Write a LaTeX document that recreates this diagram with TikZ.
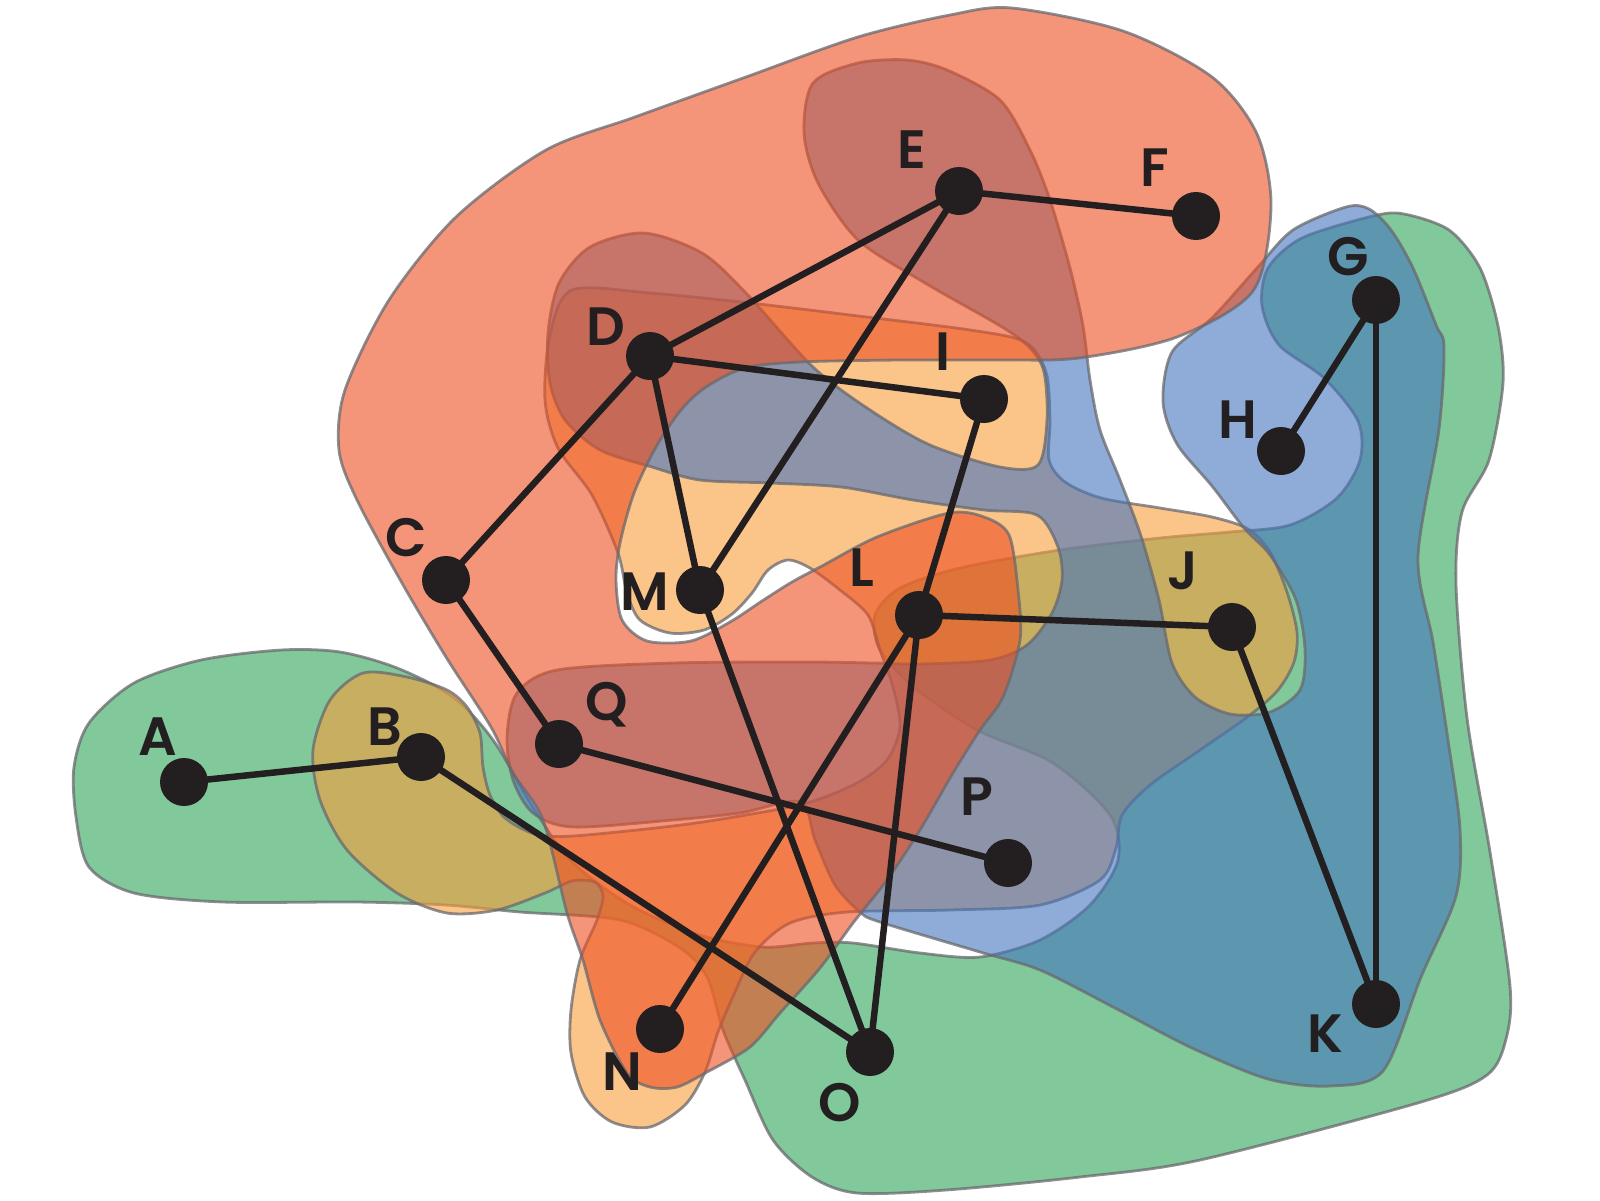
\documentclass[tikz,border=0pt]{standalone}
\usepackage{fontspec}
\setmainfont{Poppins}
\IfFontExistsTF{Poppins SemiBold}
  {\newfontfamily\lblfont{Poppins SemiBold}\newcommand\lblweight{}}
  {\IfFontExistsTF{Poppins Medium}
     {\newfontfamily\lblfont{Poppins Medium}\newcommand\lblweight{}}
     {\newfontfamily\lblfont{Poppins}\newcommand\lblweight{\bfseries}}}
\definecolor{cgreen}{RGB}{45,165,88}
\definecolor{corange}{RGB}{248,158,58}
\definecolor{cblue}{RGB}{68,117,190}
\definecolor{csalmon}{RGB}{237,78,33}
\definecolor{edgecol}{RGB}{35,31,32}
\definecolor{outl}{RGB}{105,105,110}
\tikzset{
  blob/.style={draw=outl, draw opacity=0.75, line width=2.8pt, fill opacity=0.6},
  dot/.style={circle, fill=edgecol, minimum size=48pt, inner sep=0pt},
  lbl/.style={text=edgecol, inner sep=0pt, text depth=0pt, font=\lblfont\fontsize{54}{60}\selectfont\lblweight},
  link/.style={draw=edgecol, line width=6.5pt}
}
\begin{document}
\begin{tikzpicture}[x=1pt,y=-1pt]
\useasboundingbox (0,0) rectangle (1600,1200);
% green
\draw[blob, fill=cgreen] plot[smooth cycle, tension=0.5] coordinates {
(281,650) (340,652) (397,668) (453,697) (493,740) (533,807) (570,860) (630,905) (700,935) (763,947) (813,943) (853,943) (920,953) (980,957) (1040,940) (1090,905) (1118,860) (1110,815) (1053,763) (977,730) (915,688) (880,650) (875,615) (900,588) (960,568) (1060,550) (1160,538) (1230,532) (1290,525) (1337,498) (1360,460) (1358,421) (1324,378) (1279,345) (1262,306) (1268,268) (1302,238) (1373,216) (1404,214) (1449,230) (1480,268) (1498,326) (1503,383) (1489,460) (1462,512) (1456,584) (1467,718) (1490,852) (1510,986) (1506,1039) (1487,1075) (1421,1102) (1200,1160) (1080,1177) (946,1190) (857,1193) (812,1177) (773,1140) (745,1080) (723,1030) (707,977) (680,948) (620,920) (520,912) (446,905) (357,902) (223,902) (134,893) (89,867) (76,817) (74,767) (89,723) (134,683) (201,660)};
% light orange
\draw[blob, fill=corange] plot[smooth cycle, tension=0.5] coordinates {
(572,290) (650,293) (750,303) (850,315) (970,330) (1025,342) (1046,372) (1050,420) (1049,460) (1065,482) (1101,498) (1160,508) (1212,517) (1248,529) (1270,552) (1287,592) (1297,632) (1294,662) (1278,690) (1250,715) (1200,750) (1150,785) (1122,815) (1116,848) (1100,880) (1040,905) (950,910) (847,912) (790,923) (755,952) (735,992) (718,1032) (705,1072) (685,1105) (650,1127) (612,1122) (585,1097) (571,1053) (571,1010) (580,960) (597,920) (603,896) (595,882) (572,881) (545,893) (497,910) (447,913) (397,893) (347,850) (320,800) (313,750) (330,700) (363,673) (407,677) (447,690) (467,707) (480,733) (483,767) (490,795) (505,818) (535,834) (573,836) (673,826) (740,816) (807,803) (857,783) (887,760) (900,727) (893,687) (880,650) (868,615) (840,590) (810,568) (788,560) (768,570) (752,593) (732,614) (704,630) (670,633) (640,620) (627,593) (618,553) (592,495) (558,448) (545,400) (550,335)};
% blue
\draw[blob, fill=cblue] plot[smooth cycle, tension=0.5] coordinates {
(652,467) (700,480) (770,483) (841,487) (913,500) (984,510) (1037,515) (1058,547) (1062,580) (1052,613) (1027,645) (990,660) (920,664) (873,663) (807,662) (673,663) (557,670) (517,693) (507,737) (513,780) (533,813) (573,827) (673,820) (740,813) (800,802) (815,840) (835,885) (860,912) (880,922) (980,952) (1040,970) (1115,1008) (1192,1048) (1268,1079) (1330,1086) (1383,1071) (1421,977) (1456,896) (1460,829) (1448,740) (1433,642) (1418,557) (1439,429) (1444,347) (1436,325) (1413,268) (1391,230) (1369,209) (1346,207) (1293,230) (1257,268) (1212,318) (1172,352) (1163,402) (1177,444) (1212,486) (1244,528) (1270,555) (1296,600) (1305,650) (1300,690) (1270,712) (1230,714) (1195,697) (1172,663) (1159,600) (1141,536) (1120,480) (1100,430) (1090,380) (1083,326) (1070,268) (1050,200) (1030,150) (1000,100) (947,70) (907,60) (858,63) (813,83) (804,133) (818,183) (858,240) (925,283) (1002,327) (1030,348) (1044,372) (1047,420) (1038,465) (1000,467) (930,445) (870,410) (813,367) (746,293) (702,253) (644,233) (590,247) (559,283) (548,333) (550,383) (565,420) (600,450)};
% salmon
\draw[blob, fill=csalmon] plot[smooth cycle, tension=0.5] coordinates {
(345,390) (389,300) (456,217) (546,150) (635,117) (746,77) (858,37) (950,15) (1012,8) (1123,31) (1212,77) (1257,134) (1271,207) (1253,291) (1177,337) (1079,358) (1000,360) (900,360) (800,362) (745,368) (706,387) (681,410) (656,447) (634,493) (620,543) (616,580) (622,620) (647,641) (691,641) (730,622) (762,601) (792,582) (822,566) (877,537) (949,513) (984,517) (1009,535) (1018,590) (1020,640) (1003,697) (980,730) (953,773) (920,830) (887,880) (853,923) (820,968) (780,1013) (750,1047) (707,1072) (677,1087) (650,1087) (627,1073) (600,1020) (583,960) (567,913) (543,820) (513,773) (491,727) (446,657) (402,583) (357,500) (339,450)};
% nodes
\node[dot] (A) at (184,782) {};
\node[dot] (B) at (421,757) {};
\node[dot] (C) at (446,580) {};
\node[dot] (D) at (650,356) {};
\node[dot] (E) at (959,191) {};
\node[dot] (F) at (1196,216) {};
\node[dot] (G) at (1376,300) {};
\node[dot] (H) at (1281,451) {};
\node[dot] (I) at (984,399) {};
\node[dot] (J) at (1232,627) {};
\node[dot] (K) at (1376,1004) {};
\node[dot] (L) at (919,615) {};
\node[dot] (M) at (700,590) {};
\node[dot] (N) at (660,1029) {};
\node[dot] (O) at (870,1052) {};
\node[dot] (P) at (1008,863) {};
\node[dot] (Q) at (559,744) {};
% connectors
\foreach \a/\b in {A/B,B/O,C/D,C/Q,D/E,D/I,D/M,E/F,E/M,G/H,G/K,I/L,L/J,L/N,L/O,M/O,Q/P,J/K}
  \draw[link] (\a.center) -- (\b.center);
% labels
\node[lbl] (lA) at (158,737) {A};
\node[lbl] (lB) at (385,727) {B};
\node[lbl] (lC) at (406,537) {C};
\node[lbl] (lD) at (606,327) {D};
\node[lbl] (lE) at (912,150) {E};
\node[lbl] (lF) at (1155,168) {F};
\node[lbl] (lG) at (1348,256) {G};
\node[lbl] (lH) at (1238,420) {H};
\node[lbl] (lI) at (943,352) {I};
\node[lbl] (lJ) at (1183,571) {J};
\node[lbl] (lK) at (1325,1034) {K};
\node[lbl] (lL) at (862,568) {L};
\node[lbl] (lM) at (645,592) {M};
\node[lbl] (lN) at (622,1072) {N};
\node[lbl] (lO) at (840,1102) {O};
\node[lbl] (lP) at (977,797) {P};
\node[lbl] (lQ) at (607,701) {Q};
\end{tikzpicture}
\end{document}
